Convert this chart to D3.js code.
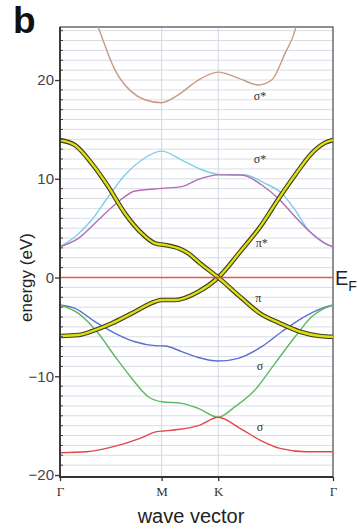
<!DOCTYPE html>
<html>
<head>
<meta charset="utf-8">
<script src="https://cdn.jsdelivr.net/npm/d3@7"></script>
<style>
  body { margin: 0; background: #fff; }
</style>
</head>
<body>
<svg id="chart" width="358" height="529"></svg>
<script>
// DATA SECTION

// high symmetry points along the path (path length units)
let kTicks = [0, 0.587, 0.914, 1.577];
let kLabels = ['\u0393', 'M', 'K', '\u0393'];

// y axis tick values
let eTicks = [-20, -10, 0, 10, 20];

// bands as [k, energy(eV)]
let sigmaStarTop = [[0.191, 26.8], [0.227, 25.06], [0.318, 21.0], [0.414, 18.8], [0.491, 18.0], [0.587, 17.7],
  [0.683, 18.5], [0.799, 20.0], [0.914, 20.8], [1.030, 20.2], [1.146, 19.5], [1.223, 20.0],
  [1.300, 22.7], [1.358, 25.06], [1.381, 26.8]];
let sigmaStarCyan = [[0, 3.12], [0.087, 4.13], [0.183, 5.82], [0.279, 8.18], [0.375, 10.38], [0.472, 11.9],
  [0.587, 12.8], [0.703, 11.9], [0.799, 11.06], [0.914, 10.45], [1.069, 10.38], [1.184, 9.54],
  [1.281, 8.53], [1.358, 6.84], [1.434, 4.81], [1.512, 3.63], [1.577, 3.12]];
let sigmaStarPurple = [[0, 3.12], [0.106, 3.97], [0.221, 5.82], [0.337, 7.68], [0.433, 8.76], [0.587, 9.03],
  [0.703, 9.2], [0.799, 9.94], [0.914, 10.4], [1.050, 10.38], [1.165, 9.37], [1.261, 8.0],
  [1.358, 6.16], [1.454, 4.48], [1.550, 3.29], [1.577, 3.12]];
// the two yellow curves cross at K: one runs 14 -> 0 -> -6, the other -6 -> 0 -> 14
let piFalling = [[0, 13.92], [0.087, 13.4], [0.183, 11.56], [0.279, 9.2], [0.375, 6.5], [0.472, 4.48],
  [0.549, 3.46], [0.607, 3.29], [0.693, 2.9], [0.741, 2.45], [0.809, 1.44], [0.914, 0],
  [1.040, -1.94], [1.155, -3.63], [1.271, -4.64], [1.386, -5.49], [1.502, -5.92], [1.577, -6.0]];
let piRising = [[0, -5.92], [0.106, -5.82], [0.202, -5.32], [0.299, -4.64], [0.414, -3.63], [0.549, -2.45],
  [0.587, -2.28], [0.664, -2.28], [0.799, -1.44], [0.914, 0],
  [1.040, 2.6], [1.155, 5.1], [1.271, 8.2], [1.358, 10.38], [1.454, 12.58], [1.531, 13.65], [1.577, 13.92]];
let sigmaBlue = [[0, -2.78], [0.087, -3.12], [0.202, -4.47], [0.318, -5.65], [0.433, -6.5], [0.549, -6.9],
  [0.607, -6.94], [0.703, -7.5], [0.799, -8.1], [0.914, -8.46], [1.030, -8.18], [1.165, -7.0],
  [1.281, -5.49], [1.396, -4.13], [1.512, -3.12], [1.577, -2.78]];
let sigmaGreen = [[0, -2.78], [0.106, -3.63], [0.221, -5.65], [0.318, -8.0], [0.414, -10.2], [0.510, -12.07],
  [0.587, -12.58], [0.703, -12.74], [0.799, -13.25], [0.914, -14.15], [1.011, -13.08], [1.126, -11.39],
  [1.242, -8.69], [1.358, -6.0], [1.454, -3.97], [1.518, -3.2], [1.577, -2.78]];
let sigmaRed = [[0, -17.74], [0.154, -17.64], [0.308, -17.13], [0.462, -16.28], [0.559, -15.6], [0.597, -15.54],
  [0.693, -15.37], [0.809, -14.94], [0.914, -14.15], [1.040, -15.27], [1.155, -16.46], [1.271, -17.3],
  [1.425, -17.64], [1.577, -17.64]];

// band name labels [k, energy, text]
let bandLabels = [[1.155, 18.4, '\u03c3*'], [1.155, 11.97, '\u03c3*'], [1.165, 3.53, '\u03c0*'],
  [1.146, -2.1, '\u03c0'], [1.155, -8.96, '\u03c3'], [1.155, -15.1, '\u03c3']];


// INITIALIZE SECTION

let svg = d3.select('#chart');
let pLeft = 60, pRight = 333, pTop = 27, pBottom = 477;

let x = d3.scaleLinear().domain([0, 1.577]).range([pLeft, pRight]);
let y = d3.scaleLinear().domain([-20.2, 25.37]).range([pBottom, pTop]);

svg.append('defs').append('clipPath')
  .attr('id', 'plotclip')
  .append('rect')
  .attr('x', pLeft).attr('y', pTop)
  .attr('width', pRight - pLeft).attr('height', pBottom - pTop);

// horizontal grid every 1 eV
svg.append('g')
  .attr('class', 'hgrid')
  .selectAll('line')
  .data(d3.range(-19, 26))
  .enter().append('line')
  .attr('x1', pLeft).attr('x2', pRight)
  .attr('y1', d => y(d)).attr('y2', d => y(d))
  .attr('stroke', '#d9dce6')
  .attr('stroke-width', 1);

// vertical grid at M and K
svg.append('g')
  .attr('class', 'vgrid')
  .selectAll('line')
  .data(kTicks.slice(1, 3))
  .enter().append('line')
  .attr('x1', d => x(d)).attr('x2', d => x(d))
  .attr('y1', pTop).attr('y2', pBottom)
  .attr('stroke', '#d3d7e3')
  .attr('stroke-width', 1);

// plot frame (top, right)
svg.append('rect')
  .attr('x', pLeft).attr('y', pTop)
  .attr('width', pRight - pLeft).attr('height', pBottom - pTop)
  .attr('fill', 'none')
  .attr('stroke', '#555')
  .attr('stroke-width', 1.3);


// RENDER SECTION

let line = d3.line()
  .x(d => x(d[0]))
  .y(d => y(d[1]))
  .curve(d3.curveMonotoneX);

let bands = svg.append('g').attr('clip-path', 'url(#plotclip)');

let thinBands = [
  [sigmaStarTop, '#c99a82'],
  [sigmaStarCyan, '#7dd0e6'],
  [sigmaStarPurple, '#b26cb4'],
  [sigmaBlue, '#5b6fcf'],
  [sigmaGreen, '#5fb763'],
  [sigmaRed, '#e2474a']
];

thinBands.forEach(function(b) {
  bands.append('path')
    .attr('d', line(b[0]))
    .attr('fill', 'none')
    .attr('stroke', b[1])
    .attr('stroke-width', 1.4);
});

// pi bands: dark outline + yellow core
[piRising, piFalling].forEach(function(b) {
  bands.append('path')
    .attr('d', line(b))
    .attr('fill', 'none')
    .attr('stroke', '#3d3d1c')
    .attr('stroke-width', 4.6);
  bands.append('path')
    .attr('d', line(b))
    .attr('fill', 'none')
    .attr('stroke', '#dede14')
    .attr('stroke-width', 2.4);
});

// Fermi level
svg.append('line')
  .attr('x1', pLeft).attr('x2', pRight)
  .attr('y1', y(0)).attr('y2', y(0))
  .attr('stroke', '#e8473d')
  .attr('stroke-opacity', 0.9)
  .attr('stroke-width', 1.6);

// band names
svg.append('g')
  .selectAll('text')
  .data(bandLabels)
  .enter().append('text')
  .attr('x', d => x(d[0]))
  .attr('y', d => y(d[1]))
  .attr('text-anchor', 'middle')
  .attr('dominant-baseline', 'central')
  .attr('font-family', 'Liberation Serif, DejaVu Serif, serif')
  .attr('font-size', 12)
  .attr('fill', '#333')
  .text(d => d[2]);

// y axis
svg.append('g')
  .attr('transform', `translate(${pLeft},0)`)
  .call(d3.axisLeft(y).tickValues(eTicks).tickSize(5).tickFormat(d3.format('d')))
  .call(g => g.select('.domain').remove())
  .call(g => g.selectAll('.tick line').attr('stroke', '#333').attr('stroke-width', 1.3))
  .call(g => g.selectAll('.tick text')
    .attr('font-family', 'Liberation Sans, Arial, sans-serif')
    .attr('font-size', 15)
    .attr('fill', '#444')
    .attr('dx', 2));

// minor ticks inside
svg.append('g')
  .selectAll('line')
  .data(d3.range(-19, 26).filter(d => d % 10 !== 0))
  .enter().append('line')
  .attr('x1', pLeft).attr('x2', pLeft + 3)
  .attr('y1', d => y(d)).attr('y2', d => y(d))
  .attr('stroke', '#444')
  .attr('stroke-width', 1);

svg.append('line')
  .attr('x1', pLeft).attr('x2', pLeft)
  .attr('y1', pTop).attr('y2', pBottom + 1)
  .attr('stroke', '#333')
  .attr('stroke-width', 1.8);

// x axis
svg.append('g')
  .attr('transform', `translate(0,${pBottom})`)
  .call(d3.axisBottom(x).tickValues(kTicks).tickSize(4).tickFormat((d, i) => kLabels[i]))
  .call(g => g.select('.domain').remove())
  .call(g => g.selectAll('.tick line').attr('stroke', '#333').attr('stroke-width', 1.3))
  .call(g => g.selectAll('.tick text')
    .attr('font-family', 'Liberation Serif, DejaVu Serif, serif')
    .attr('font-size', 13)
    .attr('fill', '#333')
    .attr('dy', '0.9em'));

svg.append('line')
  .attr('x1', pLeft).attr('x2', pRight)
  .attr('y1', pBottom).attr('y2', pBottom)
  .attr('stroke', '#333')
  .attr('stroke-width', 2);

// axis titles
svg.append('text')
  .attr('transform', `translate(32,${y(0)}) rotate(-90)`)
  .attr('text-anchor', 'middle')
  .attr('font-family', 'Liberation Sans, Arial, sans-serif')
  .attr('font-size', 17)
  .attr('fill', '#222')
  .text('energy (eV)');

svg.append('text')
  .attr('x', 191)
  .attr('y', 523)
  .attr('text-anchor', 'middle')
  .attr('font-family', 'Liberation Sans, Arial, sans-serif')
  .attr('font-size', 20)
  .attr('fill', '#222')
  .text('wave vector');

// E_F label
let ef = svg.append('text')
  .attr('x', pRight + 2)
  .attr('y', y(0) + 7)
  .attr('font-family', 'Liberation Sans, Arial, sans-serif')
  .attr('font-size', 20)
  .attr('fill', '#222');
ef.append('tspan').text('E');
ef.append('tspan').attr('font-size', 14).attr('dy', 6).text('F');

// panel letter
svg.append('text')
  .attr('x', 13)
  .attr('y', 33)
  .attr('font-family', 'Liberation Sans, Arial, sans-serif')
  .attr('font-weight', 'bold')
  .attr('font-size', 37)
  .attr('fill', '#111')
  .text('b');
</script>
</body>
</html>
